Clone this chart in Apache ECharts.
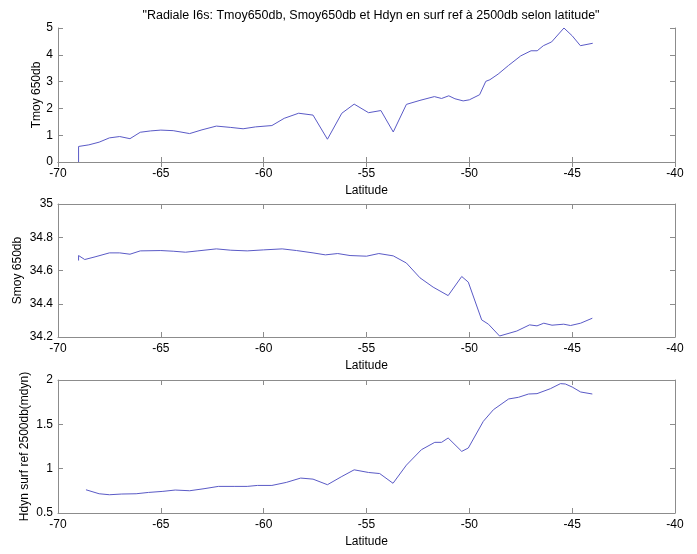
<!DOCTYPE html>
<html>
<head>
<meta charset="utf-8">
<script src="https://cdn.jsdelivr.net/npm/echarts@6/dist/echarts.min.js"></script>
<style>
  html, body { margin: 0; padding: 0; background: #fff; }
  #chart { width: 697px; height: 554px; }
</style>
</head>
<body>
<div id="chart"></div>
<script>
// Section I6S: mean temperature / salinity over 0-650 db and dynamic height
// relative to 2500 db, as a function of latitude.
const chartTitle = '"Radiale I6s: Tmoy650db, Smoy650db et Hdyn en surf ref à 2500db selon latitude"';
const xName = 'Latitude';
const latTicks = { min: -70, max: -40, interval: 5 };

// [latitude, Tmoy 650db]
const tmoy = [
  [-69.0, 0], [-69.0, 0.58], [-68.5, 0.64], [-68.0, 0.74], [-67.5, 0.90], [-67.0, 0.95],
  [-66.5, 0.87], [-66.0, 1.11], [-65.5, 1.16], [-65.0, 1.19], [-64.4, 1.17], [-63.6, 1.06],
  [-63.0, 1.20], [-62.3, 1.34], [-61.6, 1.29], [-61.0, 1.24], [-60.4, 1.31], [-59.6, 1.36],
  [-59.0, 1.63], [-58.3, 1.82], [-57.6, 1.75], [-56.9, 0.85], [-56.2, 1.82], [-55.6, 2.16],
  [-54.9, 1.84], [-54.3, 1.92], [-53.7, 1.12], [-53.06, 2.15], [-52.4, 2.30], [-51.7, 2.44],
  [-51.35, 2.37], [-51.0, 2.47], [-50.7, 2.36], [-50.3, 2.28], [-50.0, 2.32], [-49.5, 2.51],
  [-49.2, 3.01], [-49.0, 3.07], [-48.6, 3.28], [-48.1, 3.60], [-47.5, 3.96], [-47.0, 4.15],
  [-46.7, 4.15], [-46.4, 4.34], [-46.0, 4.48], [-45.4, 5.0], [-45.0, 4.71], [-44.6, 4.34],
  [-44.0, 4.43]
];

// [latitude, Smoy 650db]
const smoy = [
  [-69.0, 34.66], [-69.0, 34.69], [-68.7, 34.666], [-68.2, 34.682], [-67.5, 34.706], [-67.0, 34.706],
  [-66.5, 34.698], [-66.0, 34.718], [-65.0, 34.72], [-64.4, 34.716], [-63.8, 34.71], [-63.2, 34.718],
  [-62.3, 34.73], [-61.6, 34.722], [-60.8, 34.718], [-60.0, 34.724], [-59.1, 34.73], [-58.4, 34.72],
  [-57.6, 34.706], [-57.0, 34.694], [-56.4, 34.702], [-55.8, 34.69], [-55.0, 34.686], [-54.4, 34.702],
  [-53.7, 34.688], [-53.06, 34.645], [-52.4, 34.556], [-51.76, 34.5], [-51.03, 34.449], [-50.37, 34.564],
  [-50.05, 34.53], [-49.4, 34.303], [-49.07, 34.277], [-48.53, 34.206], [-47.69, 34.236], [-47.07, 34.273],
  [-46.71, 34.267], [-46.38, 34.283], [-45.98, 34.271], [-45.41, 34.277], [-45.08, 34.269], [-44.59, 34.283],
  [-44.02, 34.313]
];

// [latitude, Hdyn surf ref 2500db (mdyn)]
const hdyn = [
  [-68.64, 0.762], [-68.0, 0.717], [-67.5, 0.706], [-66.9, 0.714], [-66.2, 0.717], [-65.6, 0.732],
  [-64.9, 0.744], [-64.3, 0.759], [-63.6, 0.751], [-62.9, 0.774], [-62.2, 0.80], [-61.4, 0.80],
  [-60.8, 0.80], [-60.3, 0.811], [-59.6, 0.811], [-58.9, 0.845], [-58.2, 0.894], [-57.6, 0.882],
  [-56.9, 0.819], [-56.2, 0.912], [-55.6, 0.987], [-54.9, 0.957], [-54.36, 0.945], [-53.71, 0.835],
  [-53.06, 1.04], [-52.33, 1.214], [-51.68, 1.297], [-51.35, 1.297], [-51.03, 1.346], [-50.37, 1.195],
  [-50.05, 1.233], [-49.32, 1.534], [-48.83, 1.665], [-48.09, 1.786], [-47.61, 1.805], [-47.12, 1.842],
  [-46.71, 1.846], [-46.06, 1.902], [-45.57, 1.959], [-45.33, 1.955], [-45.0, 1.921], [-44.59, 1.865],
  [-44.02, 1.842]
];

const panels = [
  { name: 'Tmoy 650db', data: tmoy, min: 0, max: 5, interval: 1, digits: 0, top: 28, height: 134, nameGap: 15 },
  { name: 'Smoy 650db', data: smoy, min: 34.2, max: 35, interval: 0.2, digits: 1, top: 204, height: 133, nameGap: 34 },
  { name: 'Hdyn surf ref 2500db(mdyn)', data: hdyn, min: 0.5, max: 2, interval: 0.5, digits: 1, top: 380, height: 133, nameGap: 27 }
];

const FONT = 'Liberation Sans, Arial, Helvetica, sans-serif';
const FRAME = '#8c8c8c';
const TEXT = '#000000';
const LINE = '#5a5ac6';

const grid = [], xAxis = [], yAxis = [], series = [];
panels.forEach((p, i) => {
  grid.push({ left: 58, right: 22, top: p.top, height: p.height });
  const frameLine = { show: true, lineStyle: { color: FRAME, width: 1 } };
  const ticks = { show: true, inside: true, length: 5, lineStyle: { color: FRAME, width: 1 } };
  // bottom axis with labels
  xAxis.push({
    type: 'value', gridIndex: i, position: 'bottom', ...latTicks,
    name: xName, nameLocation: 'middle', nameGap: 23, nameMoveOverlap: false,
    nameTextStyle: { fontFamily: FONT, fontSize: 12, color: TEXT },
    axisLine: frameLine, axisTick: ticks,
    axisLabel: { fontFamily: FONT, fontSize: 12, color: TEXT, margin: 6 },
    splitLine: { show: false }
  });
  // top edge of the box, ticks only
  xAxis.push({
    type: 'value', gridIndex: i, position: 'top', ...latTicks,
    axisLine: frameLine, axisTick: ticks, axisLabel: { show: false }, splitLine: { show: false }
  });
  yAxis.push({
    type: 'value', gridIndex: i, position: 'left', min: p.min, max: p.max, interval: p.interval,
    name: p.name, nameLocation: 'middle', nameGap: p.nameGap, nameRotate: 90, nameMoveOverlap: false,
    nameTextStyle: { fontFamily: FONT, fontSize: 12, color: TEXT },
    axisLine: frameLine, axisTick: ticks,
    axisLabel: { fontFamily: FONT, fontSize: 12, color: TEXT, margin: 5,
      formatter: v => String(+v.toFixed(p.digits)) },
    splitLine: { show: false }
  });
  yAxis.push({
    type: 'value', gridIndex: i, position: 'right', min: p.min, max: p.max, interval: p.interval,
    axisLine: frameLine, axisTick: ticks, axisLabel: { show: false }, splitLine: { show: false }
  });
  series.push({
    type: 'line', xAxisIndex: i * 2, yAxisIndex: i * 2, data: p.data,
    showSymbol: false, symbol: 'none', animation: false,
    lineStyle: { color: LINE, width: 1 }
  });
});

const chart = echarts.init(document.getElementById('chart'), null, { renderer: 'canvas' });
chart.setOption({
  backgroundColor: '#ffffff',
  animation: false,
  title: {
    text: chartTitle, left: 366, top: 4, textAlign: 'center',
    textStyle: { fontFamily: FONT, fontSize: 12.5, fontWeight: 'normal', color: TEXT }
  },
  grid, xAxis, yAxis, series
});
</script>
</body>
</html>
